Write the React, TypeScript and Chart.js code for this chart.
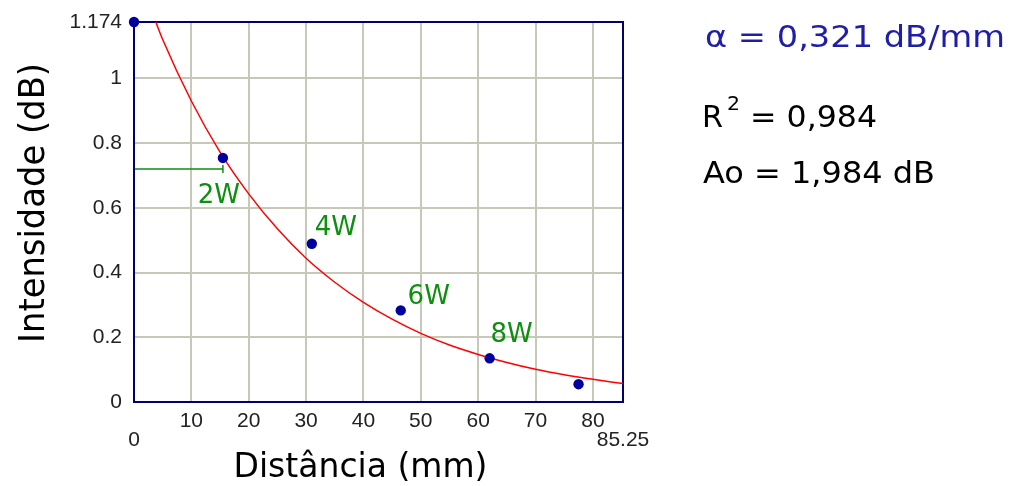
import React, { useEffect, useRef } from 'react';
import { Chart, registerables } from 'chart.js';

Chart.register(...registerables);

// Measured attenuation points
const distances = [0, 15.5, 31, 46.5, 62, 77.5];
const intensities = [1.174, 0.754, 0.489, 0.283, 0.135, 0.055];
const powerLabels = ['', '2W', '4W', '6W', '8W', ''];

// Exponential fit curve
const fitDistances = [3.8, 5, 10, 15, 20, 25, 30, 35, 40, 45, 50, 55, 60, 65, 70, 75, 80, 85.25];
const fitIntensities = [1.174, 1.12, 0.93, 0.772, 0.643, 0.535, 0.444, 0.37, 0.308, 0.256, 0.212, 0.176, 0.147, 0.122, 0.101, 0.084, 0.07, 0.057];

// Axis ticks
const xTickValues = [0, 10, 20, 30, 40, 50, 60, 70, 80, 85.25];
const xTickLabels = ['0', '10', '20', '30', '40', '50', '60', '70', '80', '85.25'];
const yTickValues = [0, 0.2, 0.4, 0.6, 0.8, 1, 1.174];
const yTickLabels = ['0', '0.2', '0.4', '0.6', '0.8', '1', '1.174'];

// Reference level marker up to the 2W point
const markerLevel = 0.72;
const markerPoint = 1;

// Fit results
const alphaText = 'α = 0,321 dB/mm';
const r2Text = '= 0,984';
const a0Text = 'Ao = 1,984 dB';

const xTitle = 'Distância (mm)';
const yTitle = 'Intensidade (dB)';

const GREEN = '#0f8f0f';
const BLUE_TEXT = '#1e1ea6';
const FRAME = '#00006e';
const GRID = '#c8c8b8';

function drawFitted(ctx: CanvasRenderingContext2D, text: string, x: number, y: number, width: number, font: string, color: string) {
  ctx.save();
  ctx.font = font;
  const w = ctx.measureText(text).width;
  ctx.translate(x, y);
  ctx.scale(width / w, 1);
  ctx.fillStyle = color;
  ctx.textAlign = 'left';
  ctx.textBaseline = 'alphabetic';
  ctx.fillText(text, 0, 0);
  ctx.restore();
}

// label offsets (px) from each labelled point
const labelOffsets: Record<string, [number, number]> = {
  '2W': [-4, 38],
  '4W': [24, -15],
  '6W': [28, -13],
  '8W': [22, -23],
};

const decorPlugin = {
  id: 'decor',
  beforeDatasetsDraw(chart: any) {
    const { ctx, chartArea } = chart;
    const xs = chart.scales.x;
    const ys = chart.scales.y;
    ctx.save();
    // plot frame
    ctx.strokeStyle = FRAME;
    ctx.lineWidth = 2;
    ctx.strokeRect(chartArea.left, chartArea.top, chartArea.right - chartArea.left, chartArea.bottom - chartArea.top);
    // reference level marker
    const my = ys.getPixelForValue(markerLevel);
    const mx = xs.getPixelForValue(distances[markerPoint]);
    ctx.strokeStyle = GREEN;
    ctx.lineWidth = 1.5;
    ctx.beginPath();
    ctx.moveTo(chartArea.left + 1, my);
    ctx.lineTo(mx, my);
    ctx.moveTo(mx, my - 4);
    ctx.lineTo(mx, my + 4);
    ctx.stroke();
    ctx.restore();
  },
  afterDatasetsDraw(chart: any) {
    const { ctx } = chart;
    const xs = chart.scales.x;
    const ys = chart.scales.y;
    ctx.save();
    ctx.font = '26px "DejaVu Sans"';
    ctx.fillStyle = GREEN;
    ctx.textAlign = 'center';
    ctx.textBaseline = 'middle';
    powerLabels.forEach((lab, i) => {
      if (!lab) return;
      const off = labelOffsets[lab] || [0, 0];
      const px = xs.getPixelForValue(distances[i]) + off[0];
      const py = ys.getPixelForValue(intensities[i]) + off[1];
      ctx.fillText(lab, px, py);
    });
    ctx.restore();
  },
  afterDraw(chart: any) {
    const { ctx, chartArea } = chart;
    ctx.save();
    // axis titles
    ctx.font = '33px "DejaVu Sans"';
    ctx.fillStyle = '#000';
    ctx.textAlign = 'center';
    ctx.textBaseline = 'alphabetic';
    const cx = (chartArea.left + chartArea.right) / 2 - 18;
    ctx.fillText(xTitle, cx, 477);
    ctx.save();
    ctx.translate(44, 343);
    ctx.rotate(-Math.PI / 2);
    drawFitted(ctx, yTitle, 0, 0, 280, '36px "DejaVu Sans"', '#000');
    ctx.restore();

    // fit results
    drawFitted(ctx, alphaText, 705, 47, 300, '30px "DejaVu Sans"', BLUE_TEXT);
    drawFitted(ctx, 'R', 702, 127, 21, '30px "DejaVu Sans"', '#000');
    drawFitted(ctx, '2', 727, 110, 13, '20px "DejaVu Sans"', '#000');
    drawFitted(ctx, r2Text, 750, 127, 127, '30px "DejaVu Sans"', '#000');
    drawFitted(ctx, a0Text, 703, 183, 232, '30px "DejaVu Sans"', '#000');
    ctx.restore();
  },
};

export default function App() {
  const canvasRef = useRef<HTMLCanvasElement | null>(null);

  useEffect(() => {
    document.body.style.margin = '0';
    const canvas = canvasRef.current;
    if (!canvas) return;
    const tickFont = { family: '"Liberation Sans", Arial, sans-serif', size: 21, lineHeight: 0.9 };
    const chart = new Chart(canvas, {
      type: 'scatter',
      data: {
        datasets: [
          {
            type: 'line',
            label: 'fit',
            data: fitDistances.map((x, i) => ({ x, y: fitIntensities[i] })),
            borderColor: '#ff0000',
            borderWidth: 1.5,
            pointRadius: 0,
            fill: false,
            cubicInterpolationMode: 'monotone',
            order: 2,
          } as any,
          {
            type: 'scatter',
            label: 'data',
            data: distances.map((x, i) => ({ x, y: intensities[i] })),
            backgroundColor: '#0000a0',
            borderColor: '#0000a0',
            pointRadius: 5.2,
            pointBorderWidth: 0,
            clip: false,
            order: 1,
          } as any,
        ],
      },
      options: {
        animation: false,
        responsive: true,
        maintainAspectRatio: false,
        layout: { padding: { left: 0, top: 22, right: 391, bottom: 0 } },
        plugins: {
          legend: { display: false },
          tooltip: { enabled: false },
        },
        scales: {
          x: {
            type: 'linear',
            min: 0,
            max: 85.25,
            afterBuildTicks: (scale: any) => {
              scale.ticks = xTickValues.map((v) => ({ value: v }));
            },
            afterFit: (scale: any) => {
              scale.height = 84;
            },
            ticks: {
              autoSkip: false,
              maxRotation: 0,
              minRotation: 0,
              padding: 10,
              color: '#222',
              font: tickFont,
              callback: (value: any, index: number) => {
                const lab = xTickLabels[index];
                return index === 0 || index === xTickLabels.length - 1 ? ['', lab] : lab;
              },
            },
            grid: {
              drawTicks: false,
              lineWidth: 2,
              color: (ctx: any) => {
                const v = ctx.tick ? ctx.tick.value : null;
                return v === 0 || v === 85.25 ? 'rgba(0,0,0,0)' : GRID;
              },
            },
            border: { display: false },
          },
          y: {
            type: 'linear',
            min: 0,
            max: 1.174,
            afterBuildTicks: (scale: any) => {
              scale.ticks = yTickValues.map((v) => ({ value: v }));
            },
            afterFit: (scale: any) => {
              scale.width = 134;
            },
            ticks: {
              autoSkip: false,
              padding: 12,
              color: '#222',
              font: tickFont,
              callback: (value: any, index: number) => yTickLabels[index],
            },
            grid: {
              drawTicks: false,
              lineWidth: 2,
              color: (ctx: any) => {
                const v = ctx.tick ? ctx.tick.value : null;
                return v === 0 || v === 1.174 ? 'rgba(0,0,0,0)' : GRID;
              },
            },
            border: { display: false },
          },
        },
      },
      plugins: [decorPlugin],
    } as any);
    return () => chart.destroy();
  }, []);

  return (
    <div style={{ position: 'relative', width: '1014px', height: '486px', background: '#fff' }}>
      <canvas ref={canvasRef} />
    </div>
  );
}
